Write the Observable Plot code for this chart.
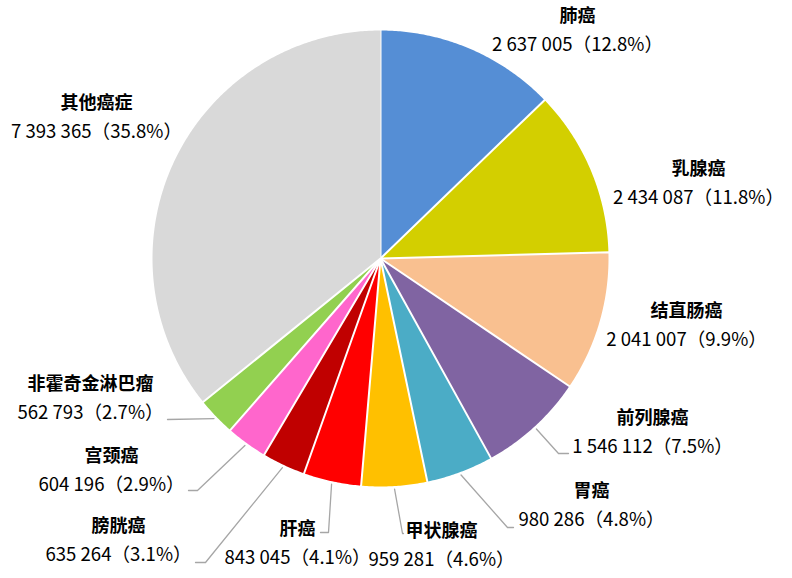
<!DOCTYPE html>
<html><head><meta charset="utf-8">
<script src="https://cdn.jsdelivr.net/npm/d3@7"></script>
<script src="https://cdn.jsdelivr.net/npm/@observablehq/plot@0.6"></script>
<style>html,body{margin:0;padding:0;background:#fff;}#chart{width:792px;height:578px;}</style>
</head><body><div id="chart"></div>
<script>
// ---- data ----
const names = ["肺癌","乳腺癌","结直肠癌","前列腺癌","胃癌","甲状腺癌","肝癌","膀胱癌","宫颈癌","非霍奇金淋巴瘤","其他癌症"];
const cases = [2637005,2434087,2041007,1546112,980286,959281,843045,635264,604196,562793,7393365];
const shares = [12.8,11.8,9.9,7.5,4.8,4.6,4.1,3.1,2.9,2.7,35.8];
const colors = ["#558ED5","#D3CF00","#F9C090","#8064A2","#4BACC6","#FFC000","#FF0000","#C00000","#FF66CC","#92D050","#D9D9D9"];

// ---- layout ----
const W = 792, H = 578, CX = 380, CY = 258, R = 229;
const nameAt = [[577,16],[698,169],[686,311],[652,418],[591,491],[441,531],[297,529],[118,526],[111,456],[90,384],[96,103]];
const valueGap = 29;
const leaderBends = {3:[[558,453],[568,453]],4:[[507,527],[513,527]],5:[[402,533],[403,533]],6:[[328,532],[320,532]],7:[[205,562],[195,562]],8:[[197,490],[188,490]],9:[[167,419],[167,419]]};

const total = d3.sum(cases);
const fmt = v => d3.format(",")(v).replace(/,/g, " ");
const pt = (a, r) => ({x: CX + r * Math.sin(a), y: CY - r * Math.cos(a)});

let acc = 0;
const slicePts = [], leaderPts = [], labels = [];
names.forEach((name, i) => {
  const a0 = acc / total * 2 * Math.PI;
  acc += cases[i];
  const a1 = acc / total * 2 * Math.PI;
  const n = Math.max(2, Math.ceil((a1 - a0) / (Math.PI / 360)));
  slicePts.push({name, ...pt(0, 0)});
  for (let k = 0; k <= n; k++) slicePts.push({name, ...pt(a0 + (a1 - a0) * k / n, R)});
  const am = (a0 + a1) / 2;
  if (leaderBends[i]) {
    leaderPts.push({name, ...pt(am, R + 2)});
    leaderBends[i].forEach(([x, y]) => leaderPts.push({name, x, y}));
  }
  labels.push({name, x: nameAt[i][0], ny: nameAt[i][1], vy: nameAt[i][1] + valueGap,
               val: fmt(cases[i]) + "（" + shares[i].toFixed(1) + "%）"});
});

const chart = Plot.plot({
  width: W, height: H, margin: 0,
  style: {fontFamily: "'Noto Sans CJK SC', 'Noto Sans', sans-serif", background: "#fff", color: "#000"},
  x: {domain: [0, W], range: [0, W], axis: null},
  y: {domain: [0, H], range: [0, H], axis: null},
  color: {domain: names, range: colors},
  marks: [
    Plot.line(slicePts, {x: "x", y: "y", z: "name", fill: "name", stroke: "#fff", strokeWidth: 2, strokeLinejoin: "round"}),
    Plot.line(leaderPts, {x: "x", y: "y", z: "name", stroke: "#A6A6A6", strokeWidth: 1.3}),
    Plot.text(labels, {x: "x", y: "ny", text: "name", fontWeight: "bold", fontSize: 18, fill: "#000"}),
    Plot.text(labels, {x: "x", y: "vy", text: "val", fontSize: 18.6, fill: "#000"})
  ]
});
document.getElementById("chart").append(chart);
</script>
</body></html>
